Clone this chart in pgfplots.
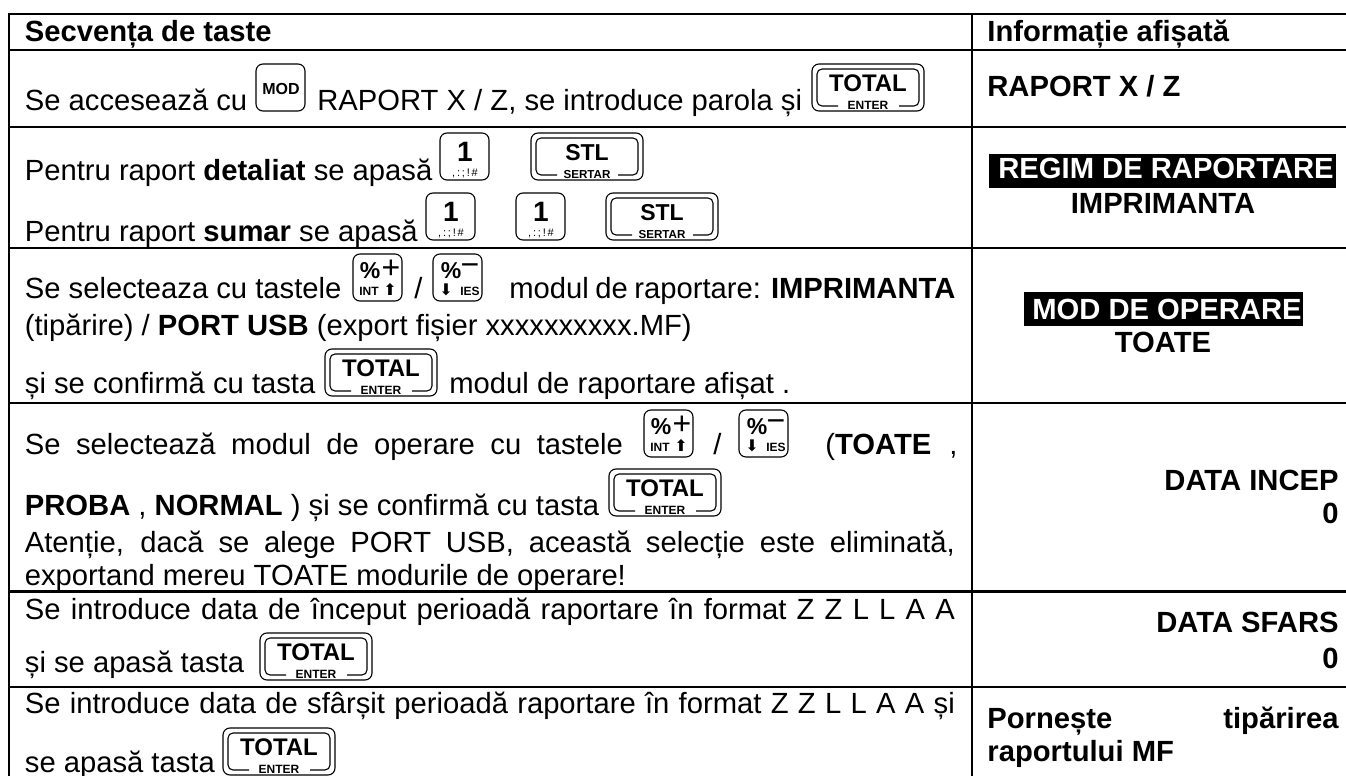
\documentclass[border=0pt]{standalone}
\usepackage{pgfplots}
\pgfplotsset{compat=1.18}
\usepackage{fontspec}
\setmainfont{Liberation Sans}
\newfontfamily\dejavu{DejaVu Sans}
\newcommand\fs[1]{\fontsize{#1}{#1}\selectfont}
% text helpers (x, baseline y in px)
\newcommand\tl[3]{\node[anchor=base west,inner sep=0pt,font=\fs{14.6}] at (axis cs:#1,#2) {#3};}
\newcommand\tr[3]{\node[anchor=base east,inner sep=0pt,font=\fs{14.6}] at (axis cs:#1,#2) {#3};}
\newcommand\tc[3]{\node[anchor=base,inner sep=0pt,font=\fs{14.6}] at (axis cs:#1,#2) {#3};}
% justified: x, y, width in pt, text
\newcommand\tj[4]{\node[anchor=base west,inner sep=0pt,font=\fs{14.6}] at (axis cs:#1,#2) {\makebox[#3pt][s]{#4}};}
\newcommand\kt[4]{\node[anchor=base,inner sep=0pt,font=\fs{#3}\bfseries] at (axis cs:#1,#2) {#4};}
\newcommand\widekey[4]{%
 \draw[line width=.55pt,rounded corners=3.5pt] (axis cs:#1,#2) rectangle (axis cs:#1+112,#2+47);
 \draw[line width=.55pt,rounded corners=2.5pt] (axis cs:#1+26,#2+42) -- (axis cs:#1+5,#2+42) -- (axis cs:#1+5,#2+5) -- (axis cs:#1+107,#2+5) -- (axis cs:#1+107,#2+42) -- (axis cs:#1+87,#2+42);
 \kt{#1+56}{#2+27}{#3}{#4}}
\newcommand\totalkey[2]{\widekey{#1}{#2}{12}{TOTAL}\kt{#1+56}{#2+45}{6}{ENTER}}
\newcommand\stlkey[2]{\widekey{#1}{#2}{11.5}{STL}\kt{#1+56}{#2+45}{5.8}{SERTAR}}
\newcommand\keybox[2]{\draw[line width=.55pt,rounded corners=3.5pt] (axis cs:#1,#2) rectangle (axis cs:#1+49,#2+47);}
\newcommand\onekey[2]{\keybox{#1}{#2}\kt{#1+25}{#2+28}{14}{1}%
 \node[anchor=base,inner sep=0pt,font=\fs{5.5}] at (axis cs:#1+25,#2+43) {,\,:\,;\,!\,\#};}
\newcommand\modkey[2]{\keybox{#1}{#2}\kt{#1+25}{#2+30}{8}{MOD}}
\newcommand\pluskey[2]{\keybox{#1}{#2}\kt{#1+17}{#2+24}{11.5}{\%}%
 \node[anchor=base,inner sep=0pt,font=\fs{16}] at (axis cs:#1+38,#2+24) {+};
 \kt{#1+16}{#2+41}{6}{INT}\node[anchor=base,inner sep=0pt,font=\fs{8}\dejavu] at (axis cs:#1+37,#2+41) {⬆};}
\newcommand\minuskey[2]{\keybox{#1}{#2}\kt{#1+18}{#2+24}{11.5}{\%}%
 \node[anchor=base,inner sep=0pt,font=\fs{16}] at (axis cs:#1+37,#2+21) {−};
 \kt{#1+37}{#2+41}{6}{IES}\node[anchor=base,inner sep=0pt,font=\fs{8}\dejavu] at (axis cs:#1+13,#2+41) {⬇};}
\begin{document}
\begin{tikzpicture}
\path[use as bounding box] (0,0) rectangle (673pt,388pt);
\begin{axis}[
  at={(0,0)},anchor=south west,
  scale only axis,width=673pt,height=388pt,
  xmin=0,xmax=1346,ymin=0,ymax=776,y dir=reverse,
  hide axis,clip=false]
% table rules
\pgfplotsset{rule/.style={black,line width=1.15pt,no markers,forget plot}}
\addplot[rule] coordinates {(8,14) (1346,14)};
\addplot[rule] coordinates {(8,50) (1346,50)};
\addplot[rule] coordinates {(8,127) (1346,127)};
\addplot[rule] coordinates {(8,248) (1346,248)};
\addplot[rule] coordinates {(8,402.7) (1346,402.7)};
\addplot[rule] coordinates {(8,591.5) (1346,591.5)};
\addplot[rule] coordinates {(8,687) (1346,687)};
\addplot[rule] coordinates {(9,14) (9,776)};
\addplot[rule] coordinates {(972,14) (972,776)};
% black label bars
\fill[black] (axis cs:989,154) rectangle (axis cs:1336,188);
\fill[black] (axis cs:1024,292) rectangle (axis cs:1303,326);
% header
\tl{24.5}{41}{\bfseries Secvența de taste}
\tl{987}{41}{\bfseries Informație afișată}
% row 1
\tl{24.5}{110}{Se accesează cu}
\modkey{256}{64}
\tl{317}{110}{RAPORT X / Z, se introduce parola și}
\totalkey{812}{64}
\tl{987}{97}{\bfseries RAPORT X / Z}
% row 2
\tl{24.5}{180}{Pentru raport \textbf{detaliat} se apasă}
\onekey{440}{133}
\stlkey{531}{133}
\tl{24.5}{241}{Pentru raport \textbf{sumar} se apasă}
\onekey{426}{193}
\onekey{516}{193}
\stlkey{606}{193}
\tc{1166}{178}{\bfseries\color{white}REGIM DE RAPORTARE}
\tc{1163}{213}{\bfseries IMPRIMANTA}
% row 3
\tl{24.5}{298}{Se selecteaza cu tastele}
\pluskey{353}{254}
\tl{414}{298}{/}
\minuskey{433}{254}
\tj{509}{298}{223}{modul de raportare: \textbf{IMPRIMANTA}}
\tl{24.5}{335}{(tipărire) / \textbf{PORT USB} (export fișier xxxxxxxxxx.MF)}
\tl{24.5}{393}{și se confirmă cu tasta}
\totalkey{325}{349}
\tl{449}{393}{modul de raportare afișat .}
\tc{1167}{319}{\bfseries\color{white}MOD DE OPERARE}
\tc{1163}{352}{\bfseries TOATE}
% row 4
\tj{24.5}{454}{299}{Se selectează modul de operare cu tastele}
\pluskey{644}{410}
\tl{713}{454}{/}
\minuskey{739}{410}
\tl{825}{454}{(\textbf{TOATE}}
\tl{949}{454}{,}
\tl{24.5}{515}{\textbf{PROBA} , \textbf{NORMAL} ) și se confirmă cu tasta}
\totalkey{609}{469}
\tj{24.5}{552}{465}{Atenție, dacă se alege PORT USB, această selecție este eliminată,}
\tl{24.5}{585}{exportand mereu TOATE modurile de operare!}
\tr{1339}{490}{\bfseries DATA INCEP}
\tr{1339}{523}{\bfseries 0}
% row 5
\tj{24.5}{619}{465}{Se introduce data de început perioadă raportare în format Z Z L L A A}
\tl{24.5}{672}{și se apasă tasta}
\totalkey{260}{633}
\tr{1339}{632}{\bfseries DATA SFARS}
\tr{1339}{668}{\bfseries 0}
% row 6
\tj{24.5}{713}{465}{Se introduce data de sfârșit perioadă raportare în format Z Z L L A A  și}
\tl{24.5}{772}{se apasă tasta}
\totalkey{223}{728}
\tl{987}{728}{\bfseries Pornește}
\tr{1339}{728}{\bfseries tipărirea}
\tl{987}{761}{\bfseries raportului MF}
\end{axis}
\end{tikzpicture}
\end{document}
